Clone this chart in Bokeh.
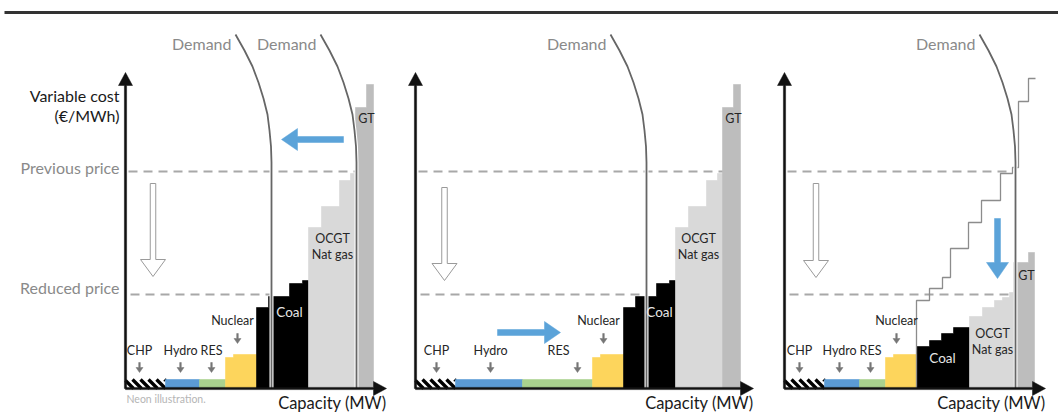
import math
from bokeh.plotting import figure
from bokeh.models import Range1d
from bokeh.core.properties import value
from bokeh.embed import file_html
from bokeh.resources import INLINE

# ---------------- data (capacity in MW-units, variable cost in €/MWh-units) ----------------
PANEL_ORIGIN = [125, 415, 784]          # where each panel's capacity axis starts
CHP_WIDTH = [40, 40, 40]
HYDRO_WIDTH = [34, 67, 35]
RES_WIDTH = [26, 70, 26]
MUSTRUN_COST = 9
NUCLEAR_WIDTH = [8, 23]
NUCLEAR_COST = [31, 34]
COAL_WIDTH = [12, 21, 13, 6]
COAL_COST = [81, 92, 105, 108]
OCGT_WIDTH = [13, 18, 11, 5]
OCGT_COST = [161, 182, 208, 215]
GT_WIDTH = [11, 7]
GT_COST = [281, 304]
# panel 3: lower fuel / carbon cost
COAL_WIDTH_LOW = [13, 12, 12, 16]
COAL_COST_LOW = [42, 48, 55, 61]
OCGT_WIDTH_LOW = [13, 12, 8, 7, 4]
OCGT_COST_LOW = [72, 81, 88, 91, 96]
GT_WIDTH_LOW = [15, 6]
GT_COST_LOW = [126, 136]
OLD_SUPPLY_CAP = [132, 145, 158, 166, 184, 197, 216, 228, 234, 244, 251]
OLD_SUPPLY_COST = [88, 100, 111, 140, 166, 188, 215, 221, 287, 310]
# demand
DEMAND_HIGH = 231
DEMAND_LOW = 146
DEMAND_SHAPE_DX = [-36, -27, -19, -13, -8, -4, -2, -0.5, 0, 0]
DEMAND_SHAPE_COST = [354, 338, 322, 306, 290, 274, 258, 242, 226, 0]
PREVIOUS_PRICE = 217
REDUCED_PRICE = 94
AXIS_TOP = 316
AXIS_RIGHT = [261, 338, 261]

# ---------------- styles ----------------
FONT = value("Lato")
C_HYDRO = "#5b9bd5"
C_RES = "#a9d18e"
C_NUC = "#fdd55c"
C_COAL = "#000000"
C_OCGT = "#d9d9d9"
C_GT = "#bdbdbd"
C_BLUE = "#5ba3d9"
C_DASH = "#a8a8a8"
C_DEMAND = "#666666"

p = figure(width=1058, height=413, output_backend="svg", toolbar_location=None,
           x_range=Range1d(0, 1058), y_range=Range1d(-25, 388), min_border=0)
p.axis.visible = False
p.grid.visible = False
p.outline_line_color = None
p.background_fill_color = "white"
p.border_fill_color = "white"


def arrow_poly(x0, y0, x1, y1, sw, hw, hl):
    L = math.hypot(x1 - x0, y1 - y0)
    dx, dy = (x1 - x0) / L, (y1 - y0) / L
    nx, ny = -dy, dx
    bx, by = x1 - dx * hl, y1 - dy * hl
    xs = [x0 + nx * sw / 2, bx + nx * sw / 2, bx + nx * hw / 2, x1,
          bx - nx * hw / 2, bx - nx * sw / 2, x0 - nx * sw / 2]
    ys = [y0 + ny * sw / 2, by + ny * sw / 2, by + ny * hw / 2, y1,
          by - ny * hw / 2, by - ny * sw / 2, y0 - ny * sw / 2]
    return xs, ys


def blocks(x0, widths, costs, color):
    """One step-shaped polygon per technology (avoids seams between steps)."""
    xs, ys = [x0], [0]
    x = x0
    for w, c in zip(widths, costs):
        xs += [x, x + w]
        ys += [c, c]
        x += w
    xs.append(x)
    ys.append(0)
    p.patch(xs, ys, fill_color=color, line_color=color, line_width=0.6)
    return x


def hatch_box(x0, x1, h, pitch=8.0):
    xs0, ys0, xs1, ys1 = [], [], [], []
    a = x0 - h
    while a < x1:
        sx, sy = a, h
        ex, ey = a + h, 0
        if sx < x0:
            sy = h - (x0 - a)
            sx = x0
        if ex > x1:
            ey = h - (x1 - a)
            ex = x1
        if ex > sx:
            xs0.append(sx); ys0.append(sy); xs1.append(ex); ys1.append(ey)
        a += pitch
    p.segment(xs0, ys0, xs1, ys1, line_color="black", line_width=3.3, line_cap="butt")


def txt(x, y, s, size="12.5px", color="#262626", align="center"):
    p.text(x=[x], y=[y], text=[s], text_font=FONT, text_font_size=size,
           text_color=color, text_align=align, text_baseline="middle")


def small_arrow(x, y_top, y_tip):
    xs, ys = arrow_poly(x, y_top, x, y_tip, 1.6, 7, 5)
    p.patch(xs, ys, fill_color="#767676", line_color="#767676", line_width=0.5)


# top rule
p.line([4, 1058], [376, 376], line_color="#333333", line_width=3)

for i, ox in enumerate(PANEL_ORIGIN):
    low = (i == 2)
    # dashed price lines
    prev_end = [231, 310, 226][i]
    red_end = [146, 231, 228][i]
    p.line([ox + 3, ox + prev_end], [PREVIOUS_PRICE, PREVIOUS_PRICE], line_color=C_DASH,
           line_width=2, line_dash="9 6")
    p.line([ox + 5, ox + red_end], [REDUCED_PRICE, REDUCED_PRICE], line_color=C_DASH,
           line_width=2, line_dash="9 6")

    # supply stack
    x = ox
    hatch_box(x, x + CHP_WIDTH[i], MUSTRUN_COST)
    x += CHP_WIDTH[i]
    x = blocks(x, [HYDRO_WIDTH[i]], [MUSTRUN_COST], C_HYDRO)
    x = blocks(x, [RES_WIDTH[i]], [MUSTRUN_COST], C_RES)
    x = blocks(x, NUCLEAR_WIDTH, NUCLEAR_COST, C_NUC)
    if not low:
        x = blocks(x, COAL_WIDTH, COAL_COST, C_COAL)
        x = blocks(x, OCGT_WIDTH, OCGT_COST, C_OCGT)
        x = blocks(x, GT_WIDTH, GT_COST, C_GT)
    else:
        x = blocks(x, COAL_WIDTH_LOW, COAL_COST_LOW, C_COAL)
        x = blocks(x, OCGT_WIDTH_LOW, OCGT_COST_LOW, C_OCGT)
        x = blocks(x, GT_WIDTH_LOW, GT_COST_LOW, C_GT)
        # previous supply curve
        sx, sy = [ox + OLD_SUPPLY_CAP[0]], [0]
        for k, c in enumerate(OLD_SUPPLY_COST):
            sx += [ox + OLD_SUPPLY_CAP[k], ox + OLD_SUPPLY_CAP[k + 1]]
            sy += [c, c]
        p.line(sx, sy, line_color="#8c8c8c", line_width=1.3)

    # demand curves
    dems = [DEMAND_LOW, DEMAND_HIGH] if i == 0 else [DEMAND_HIGH]
    for d in dems:
        dx = [ox + d + v for v in DEMAND_SHAPE_DX]
        p.line(dx, DEMAND_SHAPE_COST, line_color="white", line_width=4)
        p.line(dx, DEMAND_SHAPE_COST, line_color=C_DEMAND, line_width=1.8)
        txt(ox + d + DEMAND_SHAPE_DX[0] - 4, 345, "Demand", size="16px", color="#8a8a8a",
            align="right")

    # axes with arrow heads
    xs, ys = arrow_poly(ox, 0, ox, AXIS_TOP, 2.2, 14, 13)
    p.patch(xs, ys, fill_color="#111111", line_color="#111111", line_width=0.5)
    xs, ys = arrow_poly(ox, 0, ox + AXIS_RIGHT[i], 0, 2.2, 14, 13)
    p.patch(xs, ys, fill_color="#111111", line_color="#111111", line_width=0.5)
    txt(ox + AXIS_RIGHT[i], -14, "Capacity (MW)", size="16.5px", color="#1a1a1a", align="right")

    # hollow price-drop arrow
    hx = ox + [27.5, 29, 31.5][i]
    xs, ys = arrow_poly(hx, [205, 201, 205][i], hx, [112, 108, 111][i], 5.5, 25, 17)
    p.patch(xs, ys, fill_color="white", line_color="#9a9a9a", line_width=1)

# ---------------- labels ----------------
txt(119, 293, "Variable cost", size="16px", color="#1a1a1a", align="right")
txt(119, 273, "(€/MWh)", size="16px", color="#1a1a1a", align="right")
txt(119, 221, "Previous price", size="16px", color="#8a8a8a", align="right")
txt(119, 101, "Reduced price", size="16px", color="#8a8a8a", align="right")
txt(126, -10, "Neon illustration.", size="10.5px", color="#b5b5b5", align="left")

label_pos = [
    # (CHP, Hydro, RES label, RES arrow, Nuclear label, Nuclear arrow, Coal, Coal y, OCGT, OCGT y, GT, GT y)
    (14, 55, 86, 86, 107, 112, 164, 77, 207, 150, 241, 270),
    (21, 75, 143, 162, 183, 188, 244, 77, 283, 150, 318, 270),
    (15, 55, 86, 86, 112, 112, 158, 31, 208, 55, 242, 113),
]
for i, ox in enumerate(PANEL_ORIGIN):
    chp, hyd, resl, resa, nucl, nuca, coal, coaly, ocgt, ocgty, gt, gty = label_pos[i]
    txt(ox + chp, 38, "CHP")
    txt(ox + hyd, 38, "Hydro")
    txt(ox + resl, 38, "RES")
    txt(ox + nucl, 68, "Nuclear")
    small_arrow(ox + chp, 26, 16)
    small_arrow(ox + hyd, 26, 16)
    small_arrow(ox + resa, 26, 16)
    small_arrow(ox + nuca, 55, 45)
    txt(ox + coal, coaly, "Coal", size="13.5px", color="#e6e6e6")
    txt(ox + ocgt, ocgty, "OCGT")
    txt(ox + ocgt, ocgty - 16, "Nat gas")
    txt(ox + gt, gty, "GT")

# blue shift arrows
for (x0, y0, x1, y1) in [(343, 249, 281, 249), (497, 56, 560, 56), (997, 170, 997, 110)]:
    xs, ys = arrow_poly(x0, y0, x1, y1, 6, 22, 16)
    p.patch(xs, ys, fill_color=C_BLUE, line_color=C_BLUE, line_width=0.5)

open("out.html", "w").write(file_html(p, INLINE))
